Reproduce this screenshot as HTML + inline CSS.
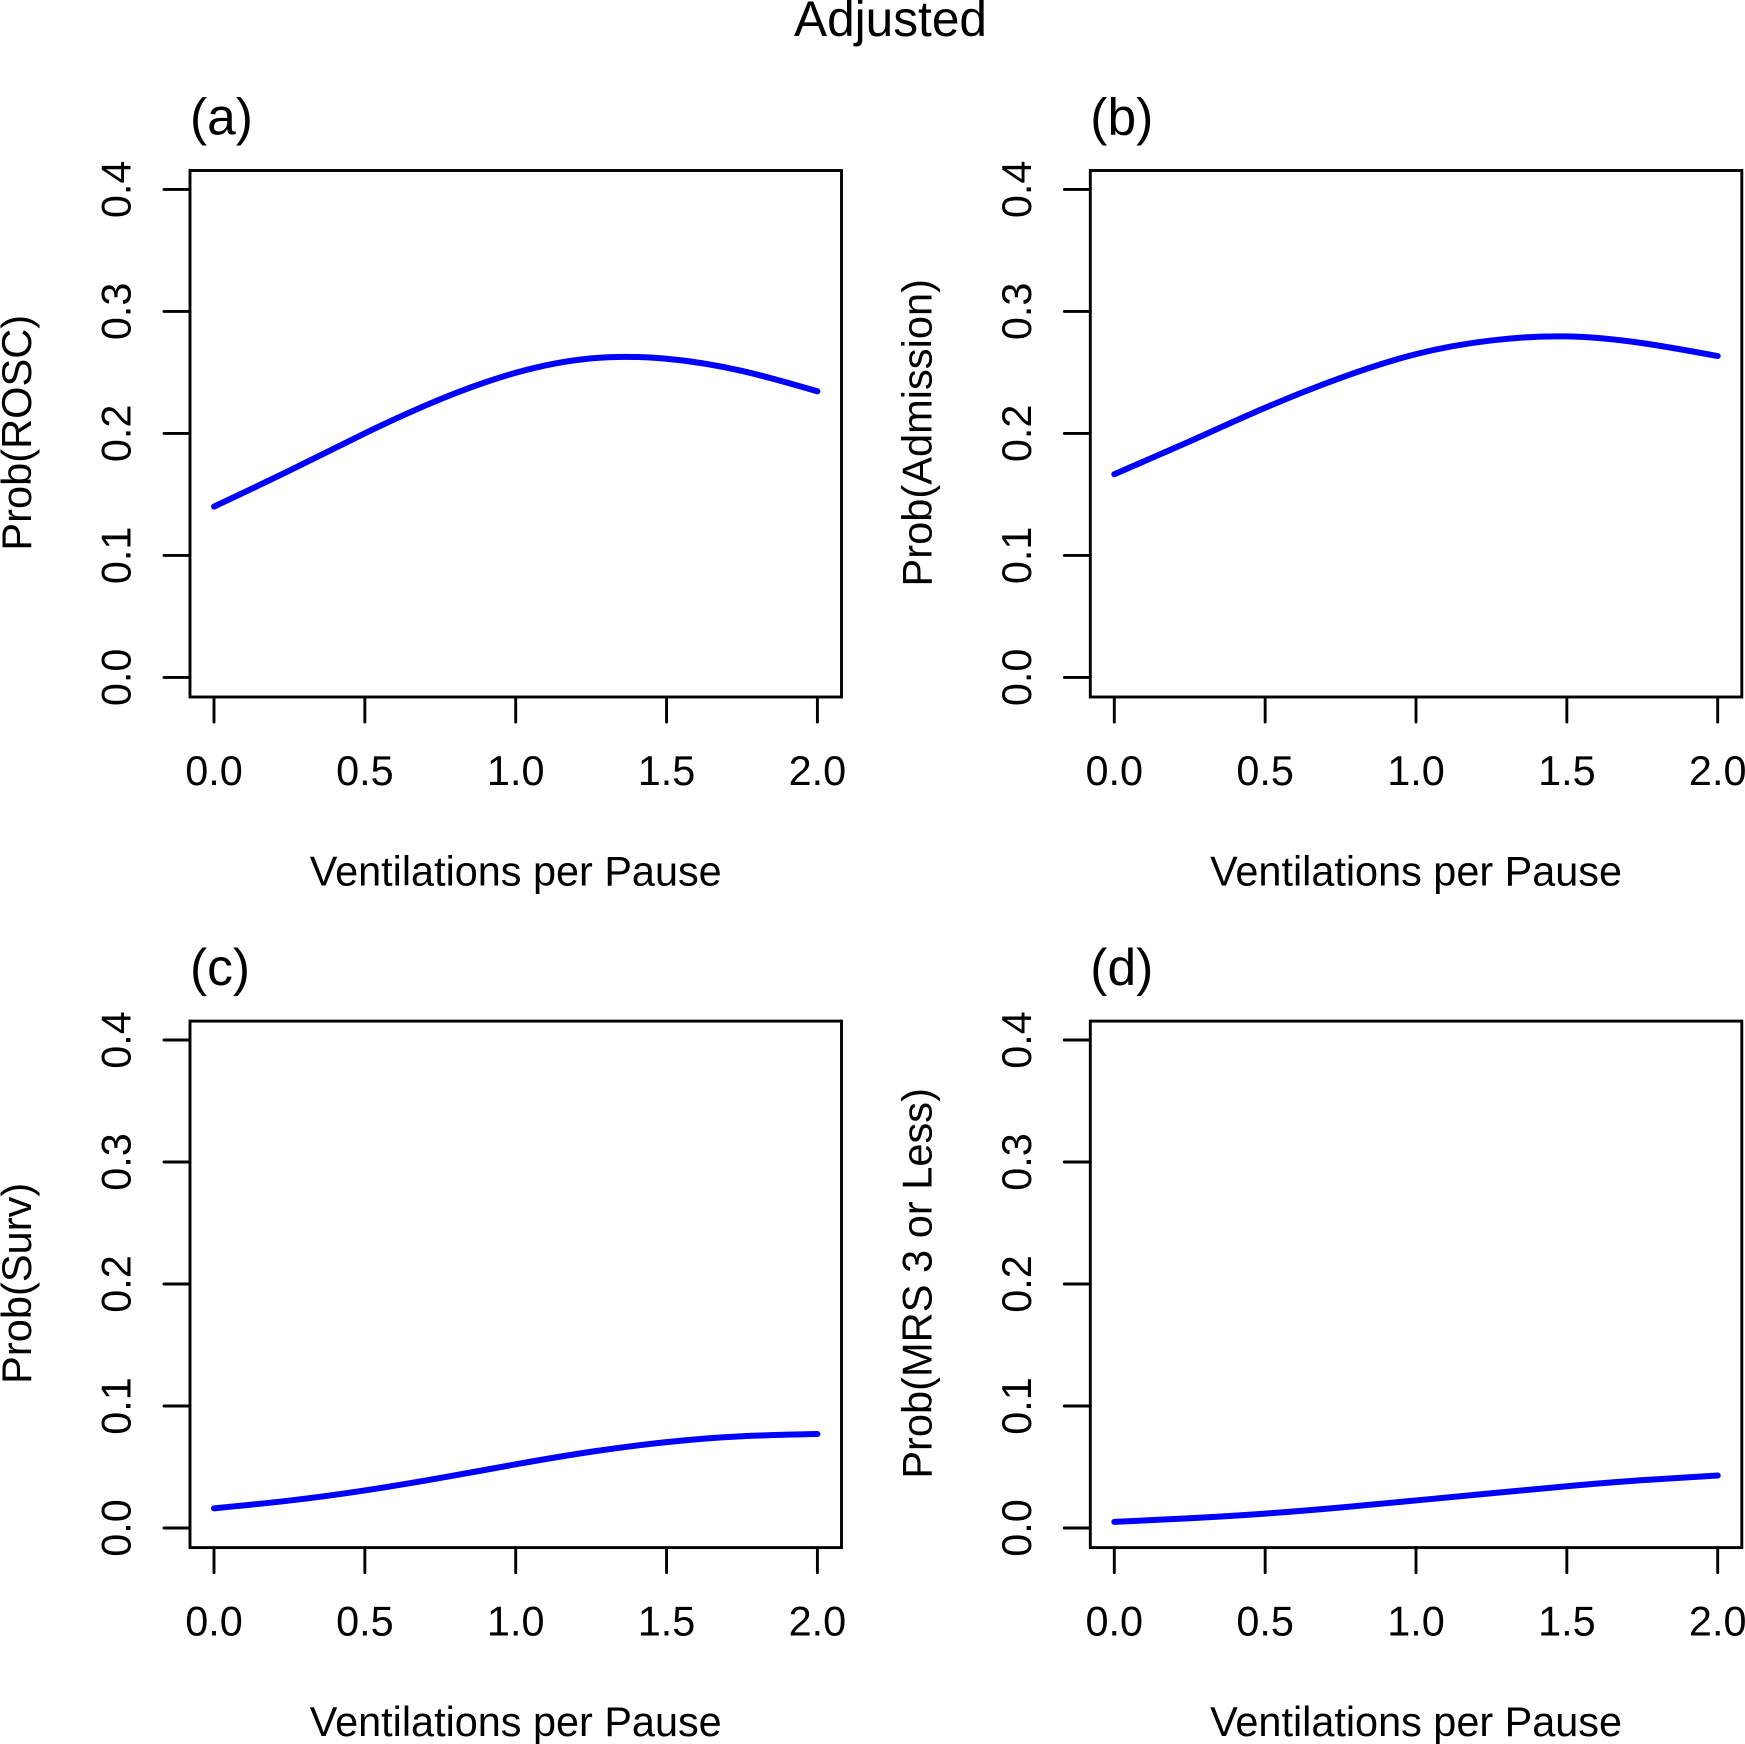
<!DOCTYPE html>
<html>
<head>
<meta charset="utf-8">
<title>Adjusted</title>
<style>
html,body{margin:0;padding:0;background:#fff;width:1745px;height:1744px;overflow:hidden}
svg{display:block}
text{font-family:"Liberation Sans",Arial,sans-serif;fill:#000}
</style>
</head>
<body>
<svg id="chart" xmlns="http://www.w3.org/2000/svg" width="1745" height="1744" viewBox="0 0 1745 1744">
<rect x="0" y="0" width="1745" height="1744" fill="#fff"/>
<text x="890.5" y="36" font-size="49.6" text-anchor="middle">Adjusted</text>
</svg>
<script>
const xValues = [0, 0.25, 0.5, 0.75, 1.0, 1.25, 1.5, 1.75, 2.0];
const rosc = [0.140, 0.1695, 0.2001, 0.2280, 0.2497, 0.2615, 0.2612, 0.2512, 0.2345];
const admission = [0.1665, 0.1935, 0.2210, 0.2455, 0.2650, 0.2762, 0.2795, 0.2740, 0.2634];
const survival = [0.0161, 0.0225, 0.0308, 0.0410, 0.0522, 0.0625, 0.0704, 0.0752, 0.0770];
const mrs = [0.0050, 0.0080, 0.0118, 0.0168, 0.0226, 0.0285, 0.0342, 0.0392, 0.0430];
const xTicks = [0, 0.5, 1.0, 1.5, 2.0];
const xTickLabels = ["0.0", "0.5", "1.0", "1.5", "2.0"];
const yTicks = [0, 0.1, 0.2, 0.3, 0.4];
const yTickLabels = ["0.0", "0.1", "0.2", "0.3", "0.4"];
const panelTags = ["(a)", "(b)", "(c)", "(d)"];
const yTitles = ["Prob(ROSC)", "Prob(Admission)", "Prob(Surv)", "Prob(MRS 3 or Less)"];
const xTitle = "Ventilations per Pause";
const seriesList = [rosc, admission, survival, mrs];

const svg = document.getElementById('chart');
const NS = 'http://www.w3.org/2000/svg';

function make(tag, attrs, parent) {
  const el = document.createElementNS(NS, tag);
  for (const k in attrs) el.setAttribute(k, attrs[k]);
  parent.appendChild(el);
  return el;
}

/* Natural cubic spline through the data points, written as Bezier segments. */
function smoothPath(pts) {
  const n = pts.length;
  const h = [];
  for (let i = 0; i < n - 1; i++) h.push(pts[i + 1][0] - pts[i][0]);
  const a = new Array(n).fill(0), b = new Array(n).fill(1), c = new Array(n).fill(0), r = new Array(n).fill(0);
  for (let i = 1; i < n - 1; i++) {
    a[i] = h[i - 1];
    b[i] = 2 * (h[i - 1] + h[i]);
    c[i] = h[i];
    r[i] = 6 * ((pts[i + 1][1] - pts[i][1]) / h[i] - (pts[i][1] - pts[i - 1][1]) / h[i - 1]);
  }
  for (let i = 1; i < n; i++) {
    const w = a[i] / b[i - 1];
    b[i] -= w * c[i - 1];
    r[i] -= w * r[i - 1];
  }
  const M = new Array(n).fill(0);
  M[n - 1] = r[n - 1] / b[n - 1];
  for (let i = n - 2; i >= 0; i--) M[i] = (r[i] - c[i] * M[i + 1]) / b[i];
  let d = 'M' + pts[0][0].toFixed(2) + ' ' + pts[0][1].toFixed(2);
  for (let i = 0; i < n - 1; i++) {
    const s = (pts[i + 1][1] - pts[i][1]) / h[i];
    const m0 = s - h[i] * (2 * M[i] + M[i + 1]) / 6;
    const m1 = s + h[i] * (M[i] + 2 * M[i + 1]) / 6;
    const c1x = pts[i][0] + h[i] / 3;
    const c1y = pts[i][1] + m0 * h[i] / 3;
    const c2x = pts[i + 1][0] - h[i] / 3;
    const c2y = pts[i + 1][1] - m1 * h[i] / 3;
    d += 'C' + c1x.toFixed(2) + ' ' + c1y.toFixed(2) + ' ' + c2x.toFixed(2) + ' ' + c2y.toFixed(2) + ' ' + pts[i + 1][0].toFixed(2) + ' ' + pts[i + 1][1].toFixed(2);
  }
  return d;
}

function drawPanel(index) {
  const col = index % 2;
  const row = Math.floor(index / 2);
  const ox = col * 900.3;
  const oy = row * 850.6;
  const left = 190 + ox, right = 841.5 + ox, top = 170.5 + oy, bottom = 697 + oy;
  const xScale = v => 214 + ox + v * 301.7;
  const yScale = v => 677.4 + oy - v * 1220;
  const ink = { stroke: '#000', 'stroke-width': 2.9, 'stroke-linecap': 'round', fill: 'none' };

  const g = make('g', {}, svg);
  
  

  const tag = make('text', { x: left, y: 134.3 + oy, 'font-size': 51.5 }, g);
  
  
  tag.textContent = panelTags[index];

  const box = make('rect', Object.assign({}, ink, { x: left, y: top, width: right - left, height: bottom - top }), g);
  
  

  xTicks.forEach((t, i) => {
    const x = xScale(t);
    const tick = make('line', Object.assign({}, ink, { x1: x, x2: x, y1: bottom, y2: bottom + 25 }), g);
    
    
    const label = make('text', { x: x, y: 785 + oy, 'font-size': 41.4, 'text-anchor': 'middle' }, g);
    
    
    label.textContent = xTickLabels[i];
  });

  yTicks.forEach((t, i) => {
    const y = yScale(t);
    const tick = make('line', Object.assign({}, ink, { x1: left - 26, x2: left, y1: y, y2: y }), g);
    
    
    const lx = 130.5 + ox;
    const label = make('text', { x: lx, y: y, 'font-size': 41.4, 'text-anchor': 'middle', transform: 'rotate(-90 ' + lx + ' ' + y + ')' }, g);
    
    
    label.textContent = yTickLabels[i];
  });

  const xt = make('text', { x: (left + right) / 2, y: 885.5 + oy, 'font-size': 41.4, 'text-anchor': 'middle' }, g);
  
  
  xt.textContent = xTitle;

  const ytx = 31 + ox;
  const yty = (top + bottom) / 2 - 1;
  const yt = make('text', { x: ytx, y: yty, 'font-size': 41.6, 'text-anchor': 'middle', transform: 'rotate(-90 ' + ytx + ' ' + yty + ')' }, g);
  
  
  yt.textContent = yTitles[index];

  const pts = xValues.map((v, i) => [xScale(v), yScale(seriesList[index][i])]);
  const curve = make('path', { d: smoothPath(pts), fill: 'none', stroke: '#0000ff', 'stroke-width': 6, 'stroke-linecap': 'round', 'stroke-linejoin': 'round' }, g);
  
  
}

panelTags.forEach((_, i) => drawPanel(i));
</script>
</body>
</html>
